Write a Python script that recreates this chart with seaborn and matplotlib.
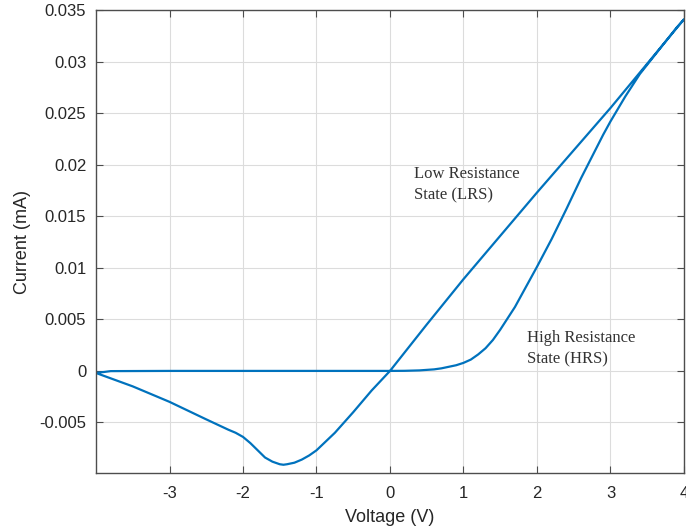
import matplotlib
matplotlib.use("Agg")
import matplotlib.pyplot as plt
import seaborn as sns
import pandas as pd

# Forward sweep (-4 V -> +4 V), high resistance state branch
v_hrs = [-4.0, -3.8, -3.0, -2.0, -1.0, 0.0, 0.2, 0.4, 0.6, 0.7, 0.8, 0.9,
         1.0, 1.1, 1.2, 1.3, 1.4, 1.5, 1.6, 1.7, 1.8, 1.9, 2.0, 2.2, 2.4,
         2.6, 2.8, 2.9, 3.0, 3.1, 3.2, 3.3, 3.4, 3.5, 3.6, 3.7, 3.8, 3.9, 4.0]
i_hrs = [-0.0002, -0.00002, 0.0, 0.0, 0.0, 0.0, 0.00001, 0.00005, 0.00015,
         0.00025, 0.0004, 0.00055, 0.00078, 0.0011, 0.0016, 0.0022, 0.0030,
         0.0040, 0.0051, 0.0062, 0.0075, 0.0088, 0.0101, 0.0128, 0.0157,
         0.0187, 0.0215, 0.0229, 0.0242, 0.0254, 0.0266, 0.0277, 0.0288,
         0.0297, 0.0306, 0.0315, 0.0324, 0.0333, 0.0341]

# Reverse sweep (+4 V -> -4 V), low resistance state branch
v_lrs = [4.0, 3.0, 2.0, 1.0, 0.5, 0.0, -0.25, -0.5, -0.75, -1.0, -1.1, -1.2,
         -1.3, -1.4, -1.45, -1.5, -1.6, -1.7, -1.8, -1.9, -2.0, -2.1, -2.2,
         -2.5, -3.0, -3.5, -4.0]
i_lrs = [0.0341, 0.0255, 0.0173, 0.0089, 0.0045, 0.0, -0.0019, -0.0040,
         -0.0060, -0.0077, -0.0082, -0.0086, -0.0089, -0.00905, -0.0091,
         -0.00905, -0.0088, -0.0084, -0.0077, -0.0070, -0.0064, -0.0060,
         -0.0057, -0.0047, -0.0030, -0.0015, -0.0002]

x_ticks = [-3, -2, -1, 0, 1, 2, 3, 4]
x_tick_labels = ["-3", "-2", "-1", "0", "1", "2", "3", "4"]
y_ticks = [-0.005, 0.0, 0.005, 0.01, 0.015, 0.02, 0.025, 0.03, 0.035]
y_tick_labels = ["-0.005", "0", "0.005", "0.01", "0.015", "0.02", "0.025",
                 "0.03", "0.035"]

df = pd.DataFrame({
    "V": v_hrs + v_lrs,
    "I": i_hrs + i_lrs,
})

sns.set_theme(style="white")
plt.rcParams["font.family"] = ["Liberation Sans", "DejaVu Sans"]
plt.rcParams["lines.solid_joinstyle"] = "round"

fig = plt.figure(figsize=(6.86, 5.32), dpi=100)
ax = fig.add_axes([96 / 686, 59 / 532, 588 / 686, 463 / 532])

sns.lineplot(data=df, x="V", y="I", sort=False, estimator=None,
             color="#0072BD", linewidth=1.6, ax=ax)

ax.set_xlim(-4, 4)
ax.set_ylim(-0.0099, 0.035)
ax.set_xticks(x_ticks)
ax.set_xticklabels(x_tick_labels)
ax.set_yticks(y_ticks)
ax.set_yticklabels(y_tick_labels)

ax.grid(True, color="#dcdcdc", linewidth=0.8)
ax.set_axisbelow(True)
for s in ax.spines.values():
    s.set_color("#4d4d4d")
    s.set_linewidth(1.0)
ax.tick_params(direction="in", length=5, width=0.8, color="#4d4d4d",
               labelsize=12, labelcolor="#262626", top=True, right=True,
               bottom=True, left=True, pad=7)
ax.tick_params(axis="x", pad=9)

ax.set_xlabel("Voltage (V)", fontsize=13, color="#262626", labelpad=6)
ax.set_ylabel("Current (mA)", fontsize=13, color="#262626", labelpad=6)

ax.text(0.33, 0.0199, "Low Resistance\nState (LRS)", family="Liberation Serif",
        fontsize=12, color="#333333", va="top", ha="left", linespacing=1.45)
ax.text(1.86, 0.0040, "High Resistance\nState (HRS)", family="Liberation Serif",
        fontsize=12, color="#333333", va="top", ha="left", linespacing=1.45)

fig.savefig("out.png", dpi=100)
